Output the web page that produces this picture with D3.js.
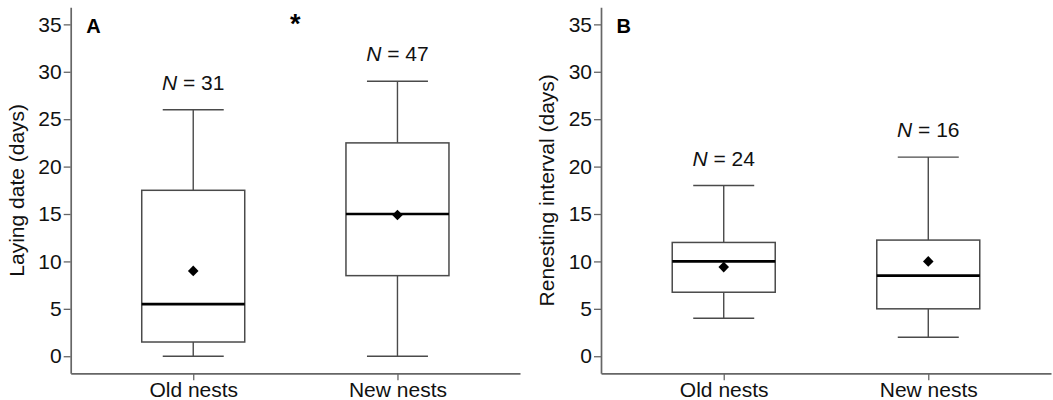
<!DOCTYPE html>
<html>
<head>
<meta charset="utf-8">
<script src="https://cdn.jsdelivr.net/npm/d3@7"></script>
<style>
  body { margin: 0; background: #fff; }
  svg { display: block; font-family: "Liberation Sans", Arial, sans-serif; }
</style>
</head>
<body>
<svg id="chart"></svg>
<script>
// categories and tick values
const categories = ["Old nests", "New nests"];
const yTicks = [0, 5, 10, 15, 20, 25, 30, 35];

// panel A: laying date (days)
const layLow  = [0, 0];
const layQ1   = [1.5, 8.5];
const layMed  = [5.5, 15];
const layQ3   = [17.5, 22.5];
const layHigh = [26, 29];
const layMean = [9, 14.9];
const layN    = [31, 47];

// panel B: renesting interval (days)
const renLow  = [4, 2];
const renQ1   = [6.75, 5];
const renMed  = [10, 8.5];
const renQ3   = [12, 12.25];
const renHigh = [18, 21];
const renMean = [9.4, 10];
const renN    = [24, 16];

const width = 1053;
const height = 400;
const axisColor = '#666';
const boxColor = '#4a4a4a';

const svg = d3.select('#chart')
  .attr('width', width)
  .attr('height', height);

// shared y scale
const y = d3.scaleLinear()
  .domain([-1.8, 36.8])
  .range([373.3, 7.3]);

function rows(low, q1, med, q3, high, mean, n) {
  return categories.map((c, i) => ({
    cat: c, low: low[i], q1: q1[i], med: med[i], q3: q3[i], high: high[i], mean: mean[i], n: n[i]
  }));
}

function drawPanel(data, x0, x1, label, title, titleX) {
  const x = d3.scalePoint()
    .domain(categories)
    .range([x0, x1])
    .padding(0.6);

  const g = svg.append('g');

  // y axis
  const yAxis = d3.axisLeft(y)
    .tickValues(yTicks)
    .tickSizeInner(7)
    .tickSizeOuter(0)
    .tickPadding(2);
  const ya = g.append('g')
    .attr('transform', 'translate(' + x0 + ',0)')
    .call(yAxis);

  // x axis
  const xAxis = d3.axisBottom(x)
    .tickSizeInner(7)
    .tickSizeOuter(0)
    .tickPadding(2);
  const xa = g.append('g')
    .attr('transform', 'translate(0,' + y.range()[0] + ')')
    .call(xAxis);

  [ya, xa].forEach(a => {
    a.select('.domain').attr('stroke', axisColor).attr('stroke-width', 1.7);
    a.selectAll('.tick line').attr('stroke', axisColor).attr('stroke-width', 1.3);
    a.selectAll('.tick text')
      .attr('fill', '#111')
      .style('font-size', '21px')
      .style('font-family', '"Liberation Sans", Arial, sans-serif');
  });

  // axis title
  g.append('text')
    .attr('transform', 'translate(' + titleX + ',' + ((y.range()[0] + y.range()[1]) / 2) + ') rotate(-90)')
    .attr('text-anchor', 'middle')
    .attr('fill', '#111')
    .style('font-size', '21px')
    .text(title);

  // panel letter
  g.append('text')
    .attr('x', x0 + 15.5)
    .attr('y', 33)
    .attr('fill', '#000')
    .style('font-size', '20px')
    .style('font-weight', 'bold')
    .text(label);

  const boxW = 103;
  const capW = 61;

  const box = g.selectAll('.box')
    .data(data)
    .enter()
    .append('g')
    .attr('class', 'box');

  // whiskers
  box.append('line')
    .attr('x1', d => x(d.cat)).attr('x2', d => x(d.cat))
    .attr('y1', d => y(d.q3)).attr('y2', d => y(d.high))
    .attr('stroke', boxColor).attr('stroke-width', 1.4);
  box.append('line')
    .attr('x1', d => x(d.cat)).attr('x2', d => x(d.cat))
    .attr('y1', d => y(d.q1)).attr('y2', d => y(d.low))
    .attr('stroke', boxColor).attr('stroke-width', 1.4);
  // caps
  box.append('line')
    .attr('x1', d => x(d.cat) - capW / 2).attr('x2', d => x(d.cat) + capW / 2)
    .attr('y1', d => y(d.high)).attr('y2', d => y(d.high))
    .attr('stroke', boxColor).attr('stroke-width', 1.4);
  box.append('line')
    .attr('x1', d => x(d.cat) - capW / 2).attr('x2', d => x(d.cat) + capW / 2)
    .attr('y1', d => y(d.low)).attr('y2', d => y(d.low))
    .attr('stroke', boxColor).attr('stroke-width', 1.4);
  // box
  box.append('rect')
    .attr('x', d => x(d.cat) - boxW / 2)
    .attr('width', boxW)
    .attr('y', d => y(d.q3))
    .attr('height', d => y(d.q1) - y(d.q3))
    .attr('fill', '#fff')
    .attr('stroke', boxColor)
    .attr('stroke-width', 1.5);
  // median
  box.append('line')
    .attr('x1', d => x(d.cat) - boxW / 2).attr('x2', d => x(d.cat) + boxW / 2)
    .attr('y1', d => y(d.med)).attr('y2', d => y(d.med))
    .attr('stroke', '#000').attr('stroke-width', 2.6);
  // mean
  box.append('path')
    .attr('d', d3.symbol(d3.symbolSquare, 56)())
    .attr('transform', d => 'translate(' + x(d.cat) + ',' + y(d.mean) + ') rotate(45)')
    .attr('fill', '#000');
  // sample size
  const nt = box.append('text')
    .attr('x', d => x(d.cat))
    .attr('y', d => y(d.high) - 20)
    .attr('text-anchor', 'middle')
    .attr('fill', '#111')
    .style('font-size', '21px');
  nt.append('tspan').style('font-style', 'italic').text('N');
  nt.append('tspan').text(d => ' = ' + d.n);

  return x;
}

const xA = drawPanel(rows(layLow, layQ1, layMed, layQ3, layHigh, layMean, layN),
  70.7, 520, 'A', 'Laying date (days)', 23.5);
drawPanel(rows(renLow, renQ1, renMed, renQ3, renHigh, renMean, renN),
  601, 1051, 'B', 'Renesting interval (days)', 553.5);

// significance mark between the two groups of panel A
svg.append('text')
  .attr('x', (xA(categories[0]) + xA(categories[1])) / 2)
  .attr('y', 33)
  .attr('text-anchor', 'middle')
  .attr('fill', '#000')
  .style('font-size', '27px')
  .style('font-weight', 'bold')
  .text('*');
</script>
</body>
</html>
